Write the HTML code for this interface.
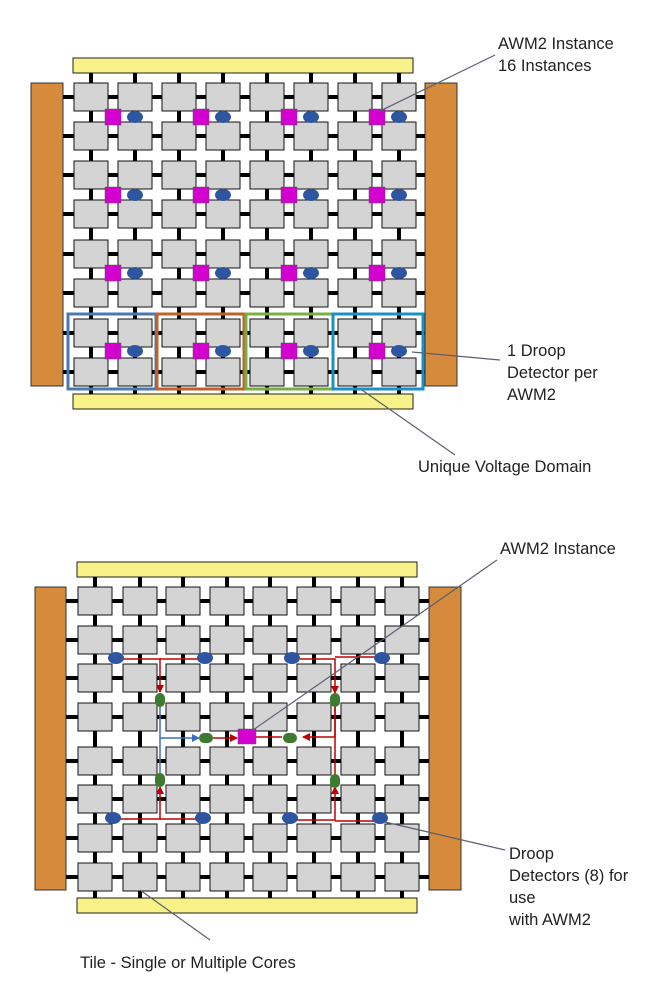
<!DOCTYPE html><html><head><meta charset="utf-8"><style>body{margin:0;background:#fff}svg{display:block}text{font-family:"Liberation Sans",sans-serif;font-size:16.5px;fill:#222}</style></head><body>
<svg id="s" width="662" height="1004" xmlns="http://www.w3.org/2000/svg">
<defs><marker id="ar" markerWidth="8" markerHeight="8" refX="7" refY="4" orient="auto" markerUnits="userSpaceOnUse"><path d="M0,0L8,4L0,8z" fill="#c00000"/></marker>
<marker id="ab" markerWidth="8" markerHeight="8" refX="7" refY="4" orient="auto" markerUnits="userSpaceOnUse"><path d="M0,0L8,4L0,8z" fill="#3a6fc0"/></marker></defs>
<g id="g1"></g><g id="g2"></g>
<g stroke-width="3" fill="none">
<rect x="68" y="314" width="88" height="75" stroke="#4a78b0"/>
<rect x="157" y="314" width="87" height="75" stroke="#c0602a"/>
<rect x="246" y="314" width="87" height="75" stroke="#78b040"/>
<rect x="333" y="314" width="90" height="75" stroke="#1890c8"/>
</g>
<g id="over"></g>
<g stroke="#5a6070" stroke-width="1.2">
<line x1="495" y1="55" x2="378" y2="112"/>
<line x1="500" y1="360" x2="412" y2="352"/>
<line x1="455" y1="455" x2="362" y2="390"/>
<line x1="497" y1="560" x2="253" y2="730"/>
<line x1="505" y1="850" x2="385" y2="822"/>
<line x1="210" y1="940" x2="140" y2="890"/>
</g>
<text x="498" y="49">AWM2 Instance</text><text x="498" y="71">16 Instances</text>
<text x="507" y="356">1 Droop</text><text x="507" y="378">Detector per</text><text x="507" y="400">AWM2</text>
<text x="418" y="472">Unique Voltage Domain</text>
<text x="500" y="554">AWM2 Instance</text>
<text x="509" y="859">Droop</text><text x="509" y="881">Detectors (8) for</text><text x="509" y="903">use</text><text x="509" y="925">with AWM2</text>
<text x="80" y="968">Tile - Single or Multiple Cores</text>
</svg>
<script>
var NS="http://www.w3.org/2000/svg";
function el(p,t,a){var e=document.createElementNS(NS,t);for(var k in a)e.setAttribute(k,a[k]);p.appendChild(e);return e;}
function grid(g,cols,rows,ty,by,ly,ry,lx,rx){
 el(g,"rect",{x:lx[0],y:ly,width:lx[1]-lx[0],height:ry-ly,fill:"#d58a3c",stroke:"#333","stroke-width":1});
 el(g,"rect",{x:rx[0],y:ly,width:rx[1]-rx[0],height:ry-ly,fill:"#d58a3c",stroke:"#333","stroke-width":1});
 el(g,"rect",{x:ty[0],y:ty[1],width:ty[2]-ty[0],height:15,fill:"#f8f288",stroke:"#222","stroke-width":1});
 el(g,"rect",{x:by[0],y:by[1],width:by[2]-by[0],height:15,fill:"#f8f288",stroke:"#222","stroke-width":1});
 cols.forEach(function(c){el(g,"rect",{x:c+15,y:ty[1]+15,width:4,height:by[1]-ty[1]-15,fill:"#000"});});
 rows.forEach(function(r){el(g,"rect",{x:lx[1],y:r+12,width:rx[0]-lx[1],height:4,fill:"#000"});});
 rows.forEach(function(r){cols.forEach(function(c){el(g,"rect",{x:c,y:r,width:34,height:28,fill:"#d4d4d4",stroke:"#111","stroke-width":1});});});
}
var g1=document.getElementById("g1"),g2=document.getElementById("g2"),ov=document.getElementById("over");
var c1=[74,118,162,206,250,294,338,382],r1=[83,122,161,200,240,279,319,358];
grid(g1,c1,r1,[73,58,413],[73,394,413],83,386,[31,63],[425,457]);
var c2=[78,123,166,210,253,297,341,385],r2=[587,626,664,703,747,785,824,863];
grid(g2,c2,r2,[77,562,417],[77,898,417],587,890,[35,66],[429,461]);
[0,1,2,3].forEach(function(i){[117,195,273,351].forEach(function(y){
 el(ov,"rect",{x:105+88*i,y:y-8,width:16,height:16,fill:"#d400d0",stroke:"#555","stroke-width":0.5});
 el(ov,"ellipse",{cx:135+88*i,cy:y,rx:8,ry:6,fill:"#2e56a0"});});});
var R="#c00000";
function ln(pts,col,mk){var a={points:pts,fill:"none",stroke:col,"stroke-width":1.5};if(mk)a["marker-end"]="url(#"+mk+")";el(ov,"polyline",a);}
ln("117,659 160,659 160,692",R,"ar");ln("205,659 160,659",R);
ln("300,659 335,659 335,693",R,"ar");ln("380,657 335,657",R);
ln("335,705 335,737 303,737",R,"ar");
ln("282,737 248,737",R,"ar");
ln("160,705 160,775",  "#3a6fc0");ln("160,738 199,738","#3a6fc0","ab");
ln("212,738 237,738",R,"ar");
ln("118,819 160,819 160,787",R,"ar");ln("203,819 160,819",R);
ln("295,820 335,820 335,787",R,"ar");ln("380,821 335,821",R);
ln("335,705 335,775",R);
el(ov,"rect",{x:238,y:729,width:18,height:15,fill:"#d400d0",stroke:"#555","stroke-width":0.5});
[[160,700,0],[335,700,0],[160,780,0],[335,781,0],[206,738,1],[290,738,1]].forEach(function(p){
 if(p[2])el(ov,"rect",{x:p[0]-7,y:p[1]-5,width:14,height:10,rx:5,fill:"#3e7a30"});
 else el(ov,"rect",{x:p[0]-5,y:p[1]-7,width:10,height:14,rx:5,fill:"#3e7a30"});});
[[116,658],[205,658],[292,658],[382,658],[113,818],[203,818],[290,818],[380,818]].forEach(function(p){
 el(ov,"ellipse",{cx:p[0],cy:p[1],rx:8,ry:6,fill:"#2e56a0"});});
</script>
</body></html>
